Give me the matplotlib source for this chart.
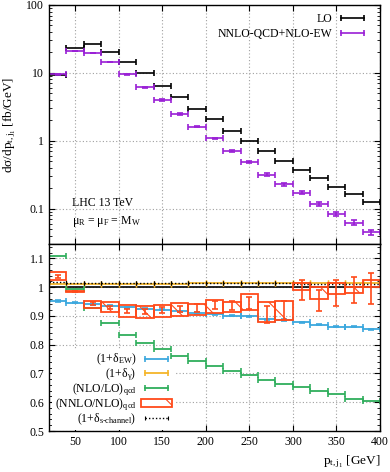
import numpy as np
import matplotlib
matplotlib.use("Agg")
import matplotlib.pyplot as plt
from matplotlib.patches import Rectangle, Patch
from matplotlib.lines import Line2D
from matplotlib.ticker import AutoMinorLocator, LogLocator, NullFormatter, FixedLocator

plt.rcParams['font.family'] = ['Liberation Serif', 'DejaVu Serif']
plt.rcParams['mathtext.fontset'] = 'custom'
plt.rcParams['mathtext.rm'] = 'Liberation Serif'
plt.rcParams['mathtext.it'] = 'Liberation Serif:italic'
plt.rcParams['mathtext.bf'] = 'Liberation Serif:bold'
plt.rcParams['hatch.linewidth'] = 0.8

# ---------------- data ----------------
pt_edges = [20, 40, 60, 80, 100, 120, 140, 160, 180, 200, 220, 240, 260, 280,
            300, 320, 340, 360, 380, 400]

lo_xs = [9.2, 23.6, 26.2, 20.4, 14.5, 10.0, 6.44, 4.35, 2.93, 2.06, 1.39, 1.00,
         0.706, 0.508, 0.371, 0.280, 0.206, 0.161, 0.124]
nnlo_xs = [9.5, 21.1, 19.7, 14.5, 9.5, 6.1, 3.97, 2.47, 1.61, 1.08, 0.713, 0.481,
           0.316, 0.229, 0.172, 0.116, 0.084, 0.062, 0.045]
nnlo_relerr = [0.01, 0.01, 0.01, 0.01, 0.015, 0.015, 0.02, 0.02, 0.025, 0.03, 0.03,
               0.04, 0.04, 0.05, 0.06, 0.06, 0.07, 0.08, 0.09]

ew_ratio = [0.952, 0.946, 0.940, 0.935, 0.930, 0.925, 0.921, 0.916, 0.910, 0.905,
            0.901, 0.898, 0.889, 0.886, 0.878, 0.869, 0.863, 0.863, 0.854]
gamma_ratio = [1.010, 1.010, 1.011, 1.011, 1.011, 1.012, 1.012, 1.012, 1.013, 1.013,
               1.013, 1.014, 1.014, 1.014, 1.015, 1.015, 1.015, 1.016, 1.016]
schan_ratio = [1.017, 1.016, 1.016, 1.016, 1.015, 1.015, 1.015, 1.014, 1.014, 1.014,
               1.013, 1.013, 1.013, 1.013, 1.012, 1.012, 1.012, 1.012, 1.012]
nlo_lo_ratio = [1.107, 0.993, 0.927, 0.875, 0.834, 0.805, 0.784, 0.762, 0.743, 0.726,
                0.708, 0.694, 0.679, 0.665, 0.652, 0.640, 0.627, 0.611, 0.604]

nnlo_nlo_c = [1.037, 0.985, 0.944, 0.930, 0.917, 0.915, 0.921, 0.924, 0.927, 0.938,
              0.935, 0.945, 0.905, 0.920, 0.990, 0.954, 0.980, 0.990, 0.995]
nnlo_nlo_err = [0.005, 0.003, 0.005, 0.006, 0.008, 0.010, 0.010, 0.012, 0.015, 0.014,
                0.016, 0.020, 0.028, 0.033, 0.035, 0.036, 0.044, 0.045, 0.055]
nnlo_nlo_lo = [1.025, 0.982, 0.927, 0.912, 0.895, 0.892, 0.895, 0.900, 0.903, 0.909,
               0.915, 0.921, 0.880, 0.886, 0.990, 0.958, 0.977, 0.979, 1.002]
nnlo_nlo_hi = [1.051, 0.988, 0.953, 0.948, 0.938, 0.935, 0.938, 0.944, 0.942, 0.956,
               0.950, 0.977, 0.950, 0.953, 1.015, 1.000, 1.014, 1.000, 1.025]

edges = np.array(pt_edges, dtype=float)
xc = 0.5 * (edges[:-1] + edges[1:])
hw = 0.5 * (edges[1:] - edges[:-1])

c_black = 'black'
c_purple = '#9a1fd6'
c_blue = '#3ca8de'
c_yellow = '#f5b52a'
c_green = '#2fae5c'
c_red = '#ff4a1a'

# ---------------- figure ----------------
fig = plt.figure(figsize=(3.9, 4.72), dpi=100)
L, R = 49 / 390, 380 / 390
ax1 = fig.add_axes([L, 1 - 244 / 472, R - L, (244 - 5) / 472])
ax2 = fig.add_axes([L, 1 - 431 / 472, R - L, (431 - 244) / 472])

fs = 8.5

# top panel
ax1.errorbar(xc, lo_xs, xerr=hw, fmt='none', ecolor=c_black, elinewidth=1.2,
             capsize=2.5, capthick=1.2, zorder=3)
nn = np.array(nnlo_xs)
ax1.errorbar(xc, nn, xerr=hw, yerr=nn * np.array(nnlo_relerr), fmt='none',
             ecolor=c_purple, elinewidth=1.2, capsize=2.5, capthick=1.2, zorder=4)
ax1.set_yscale('log')
ax1.set_ylim(0.03, 100)
ax1.set_xlim(20, 400)
ax1.set_xticks([50, 100, 150, 200, 250, 300, 350, 400])
ax1.set_xticklabels([])
ax1.set_yticks([0.1, 1, 10, 100])
ax1.set_yticklabels(['0.1', '1', '10', '100'])
ax1.yaxis.set_minor_locator(LogLocator(base=10, subs=np.arange(2, 10)))
ax1.yaxis.set_minor_formatter(NullFormatter())
ax1.grid(True, which='major', linestyle=(0, (1, 2)), color='#a0a0a0', linewidth=0.8)
ax1.set_ylabel('dσ/dp$_{\\mathrm{t,j_1}}$ [fb/GeV]', fontsize=fs + 1, labelpad=6)
ax1.text(0.07, 0.16, 'LHC 13 TeV', transform=ax1.transAxes, fontsize=fs)
ax1.text(0.07, 0.085, 'μ$_{\\mathrm{R}}$ = μ$_{\\mathrm{F}}$ = M$_{\\mathrm{W}}$',
         transform=ax1.transAxes, fontsize=fs)

h_lo = Line2D([0, 1], [0, 0], color=c_black, lw=1.2, marker='|', markersize=5,
              markeredgewidth=1.2)
h_nn = Line2D([0, 1], [0, 0], color=c_purple, lw=1.2, marker='|', markersize=5,
              markeredgewidth=1.2)
leg1 = ax1.legend([h_lo, h_nn], ['LO', 'NNLO-QCD+NLO-EW'], loc='upper right',
                  bbox_to_anchor=(0.985, 0.995), frameon=False, markerfirst=False,
                  numpoints=2, handlelength=2.6, fontsize=fs, labelspacing=0.25,
                  handletextpad=0.4, borderaxespad=0.2)

# bottom panel
ax2.axhline(1.0, color='black', lw=1.2, zorder=2)
for lo, hi, x0, w in zip(nnlo_nlo_lo, nnlo_nlo_hi, edges[:-1], 2 * hw):
    ax2.add_patch(Rectangle((x0, lo), w, max(hi - lo, 0.002), facecolor='none',
                            edgecolor=c_red, hatch='\\', lw=1.3, zorder=5))
ax2.errorbar(xc, nnlo_nlo_c, yerr=nnlo_nlo_err, fmt='none', ecolor=c_red,
             elinewidth=1.2, capsize=2.5, capthick=1.2, zorder=6)
ax2.errorbar(xc, ew_ratio, xerr=hw, yerr=0.002, fmt='none', ecolor=c_blue,
             elinewidth=1.3, capsize=2.5, capthick=1.2, zorder=4)
ax2.errorbar(xc, gamma_ratio, xerr=hw, fmt='none', ecolor=c_yellow,
             elinewidth=1.3, capsize=2, capthick=1.0, zorder=3)
eb = ax2.errorbar(xc, schan_ratio, xerr=hw, fmt='none', ecolor='black',
                  elinewidth=1.0, capsize=1.5, capthick=0.8, zorder=3)
for coll in eb[2]:
    coll.set_linestyle((0, (1, 1.5)))
ax2.errorbar(xc, nlo_lo_ratio, xerr=hw, fmt='none', ecolor=c_green,
             elinewidth=1.3, capsize=2.5, capthick=1.2, zorder=4)

ax2.set_xlim(20, 400)
ax2.set_ylim(0.5, 1.15)
ax2.set_xticks([50, 100, 150, 200, 250, 300, 350, 400])
ax2.set_yticks([0.5, 0.6, 0.7, 0.8, 0.9, 1.0, 1.1])
ax2.set_yticklabels(['0.5', '0.6', '0.7', '0.8', '0.9', '1', '1.1'])
ax2.yaxis.set_minor_locator(AutoMinorLocator(5))
ax2.grid(True, which='major', linestyle=(0, (1, 2)), color='#a0a0a0', linewidth=0.8)
ax2.set_xlabel('p$_{\\mathrm{t,j_1}}$ [GeV]', fontsize=fs + 1, loc='right', labelpad=4)

h_ew = Line2D([0, 1], [0, 0], color=c_blue, lw=1.3, marker='|', markersize=5,
              markeredgewidth=1.2)
h_ga = Line2D([0, 1], [0, 0], color=c_yellow, lw=1.3, marker='|', markersize=5,
              markeredgewidth=1.2)
h_gr = Line2D([0, 1], [0, 0], color=c_green, lw=1.3, marker='|', markersize=5,
              markeredgewidth=1.2)
h_rd = Patch(facecolor='none', edgecolor=c_red, hatch='\\', lw=1.3)
h_sc = Line2D([0, 1], [0, 0], color='black', lw=1.0, ls=(0, (1, 1.5)), marker='|',
              markersize=3, markeredgewidth=0.8)
leg2 = ax2.legend([h_ew, h_ga, h_gr, h_rd, h_sc],
                  ['(1+δ$_{\\mathrm{EW}}$)', '(1+δ$_{\\mathrm{γ}}$)',
                   '(NLO/LO)$_{\\mathrm{qcd}}$', '(NNLO/NLO)$_{\\mathrm{qcd}}$',
                   '(1+δ$_{\\mathrm{s‐channel}}$)'],
                  loc='lower right', bbox_to_anchor=(0.385, -0.005), frameon=True,
                  facecolor='white', edgecolor='none', framealpha=1.0, fancybox=False,
                  markerfirst=False, numpoints=2, handlelength=2.6, fontsize=fs,
                  labelspacing=-0.12, handletextpad=0.4, borderaxespad=0.2,
                  borderpad=0.2)
leg2.set_zorder(1.8)

for ax in (ax1, ax2):
    ax.tick_params(which='both', direction='in', top=True, right=True,
                   labelsize=fs)
    ax.tick_params(which='major', length=4)
    ax.tick_params(which='minor', length=2)
    for s in ax.spines.values():
        s.set_linewidth(1.0)
        s.set_zorder(8)
ax2.xaxis.set_minor_locator(FixedLocator([]))
ax1.xaxis.set_minor_locator(FixedLocator([]))

fig.savefig('out.png', dpi=100)
